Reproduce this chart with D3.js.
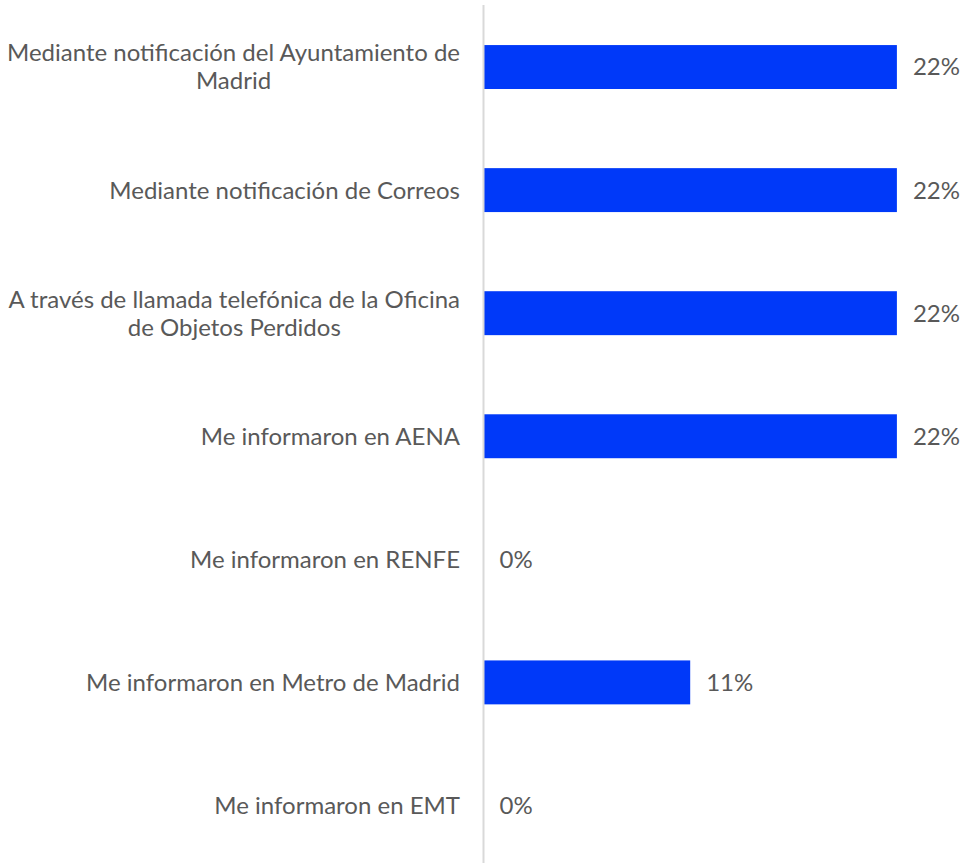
<!DOCTYPE html>
<html><head><meta charset="utf-8">
<script src="https://cdn.jsdelivr.net/npm/d3@7"></script>
<style>body{margin:0;background:#fff;}svg{display:block;}</style>
</head><body>
<svg id="c" width="964" height="863"></svg>
<script>
const categories = [
  ["Mediante notificación del Ayuntamiento de","Madrid"],
  ["Mediante notificación de Correos"],
  ["A través de llamada telefónica de la Oficina","de Objetos Perdidos"],
  ["Me informaron en AENA"],
  ["Me informaron en RENFE"],
  ["Me informaron en Metro de Madrid"],
  ["Me informaron en EMT"]
];
const values = [22, 22, 22, 22, 0, 11, 0];
const valueLabels = ["22%","22%","22%","22%","0%","11%","0%"];

const svg = d3.select("#c");
const font = "Lato, 'Open Sans', sans-serif";
const x0 = 483.5;
const x = d3.scaleLinear().domain([0, 22]).range([x0, x0 + 413.4]);
const y = d3.scaleBand().domain(d3.range(categories.length)).range([5.5, 867]).paddingInner(0.643).paddingOuter(0.3215);

svg.selectAll("rect.bar").data(values).join("rect")
  .attr("class","bar")
  .attr("x", x0)
  .attr("y", (d,i)=>y(i))
  .attr("width", d=>x(d)-x0)
  .attr("height", y.bandwidth())
  .attr("fill", "#0039f9");

svg.append("line").attr("x1", x0).attr("x2", x0).attr("y1", 5).attr("y2", 863)
  .attr("stroke", "#d9d9d9").attr("stroke-width", 2);

svg.selectAll("text.val").data(values).join("text")
  .attr("class","val")
  .attr("x", d=>x(d)+16)
  .attr("y", (d,i)=>y(i)+y.bandwidth()/2)
  .attr("dy","0.35em")
  .attr("font-family", font).attr("font-size", 24).attr("fill", "#595959")
  .text((d,i)=>valueLabels[i]);

const labelRight = 460;
const lineH = 28;
categories.forEach((lines, i) => {
  const g = svg.append("g");
  const cy = y(i) + y.bandwidth()/2;
  const texts = lines.map((l, k) => g.append("text")
    .attr("font-family", font).attr("font-size", 24).attr("fill", "#595959")
    .attr("y", cy + (k - (lines.length-1)/2) * lineH)
    .attr("dy", "0.35em")
    .text(l));
  if (lines.length === 1) {
    texts[0].attr("x", labelRight).attr("text-anchor", "end");
  } else {
    const w = d3.max(texts, t => t.node().getComputedTextLength());
    const cx = labelRight - w/2;
    texts.forEach(t => t.attr("x", cx).attr("text-anchor", "middle"));
  }
});
</script>
</body></html>
